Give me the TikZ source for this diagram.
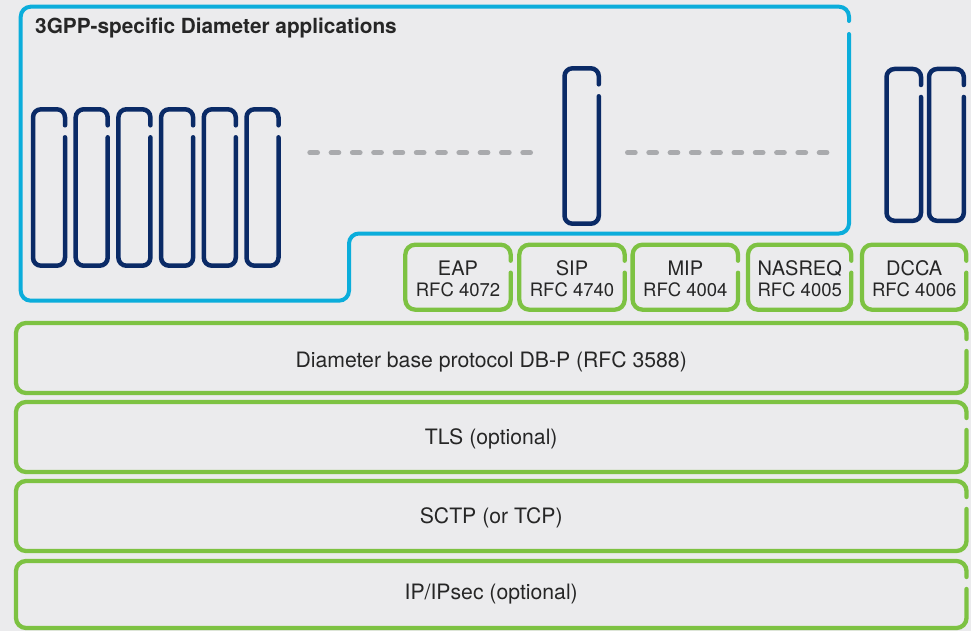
\documentclass[tikz,border=0pt]{standalone}
\usepackage{fontspec}
\setmainfont{TeX Gyre Heros}
\definecolor{bgc}{HTML}{EBEBED}
\definecolor{appblue}{HTML}{0BADDB}
\definecolor{navy}{HTML}{0A2A66}
\definecolor{leaf}{HTML}{7DC242}
\definecolor{dashgray}{HTML}{A9AAAD}
\definecolor{ink}{HTML}{262626}
% rounded frame whose right side is interrupted just below its top-right corner
% #1 style, #2 x-left, #3 y-top, #4 x-right, #5 y-bottom, #6 corner radius
\newcommand\gapframe[6]{%
  \draw[#1, rounded corners=#6] (#4,#3+28) -- (#4,#5) -- (#2,#5) -- (#2,#3) -- (#4,#3) -- (#4,#3+16);}
\tikzset{
  appframe/.style={draw=appblue, line width=4pt, line cap=round},
  pill/.style={draw=navy, line width=4.5pt, line cap=round},
  layer/.style={draw=leaf, line width=4.3pt, line cap=round},
  dotrow/.style={draw=dashgray, line width=5pt, line cap=round, dash pattern=on 7.7pt off 13.6pt},
  lbl/.style={text=ink, inner sep=0pt, anchor=base, font=\fontsize{21.2}{25}\selectfont},
  appname/.style={text=ink, inner sep=0pt, anchor=base, font=\fontsize{20}{24}\selectfont},
  rfc/.style={text=ink, inner sep=0pt, anchor=base, font=\fontsize{18.5}{22}\selectfont},
}
\begin{document}
\begin{tikzpicture}[x=1pt, y=-1pt]
\useasboundingbox (0,0) rectangle (971,631);
\fill[bgc] (0,0) rectangle (971,631);

% 3GPP application area (stepped outline)
\draw[appframe, rounded corners=10] (849,34) -- (849,233.5) -- (349,233.5) -- (349,300.7)
  -- (20.7,300.7) -- (20.7,6.7) -- (849,6.7) -- (849,21);
\node[text=ink, inner sep=0pt, anchor=base west, font=\bfseries\fontsize{20.8}{24}\selectfont]
  (title) at (35,34) {3GPP-specific Diameter applications};

% application slots
\foreach \k in {0,...,5}{
  \pgfmathsetmacro\xa{33+42.7*\k}
  \pgfmathsetmacro\xb{\xa+32}
  \gapframe{pill}{\xa}{109.3}{\xb}{265.7}{8}
}
\gapframe{pill}{564.5}{68.3}{598.8}{223.7}{8}
\gapframe{pill}{886.5}{69}{921}{220.8}{8}
\gapframe{pill}{929}{69}{963.8}{220.8}{8}

% continuation marks
\draw[dotrow] (309.8,152.7) -- (531,152.7);
\draw[dotrow] (627.5,152.7) -- (827.5,152.7);

% standard Diameter applications
\gapframe{layer}{405.3}{244.7}{510.7}{309.7}{10}
\gapframe{layer}{519.3}{244.7}{624.7}{309.7}{10}
\gapframe{layer}{632.6}{244.7}{738}{309.7}{10}
\gapframe{layer}{748}{244.7}{851.3}{309.7}{10}
\gapframe{layer}{862}{244.7}{966.3}{309.7}{10}
\node[appname] (eap)  at (458,275)   {EAP};
\node[rfc]     (eapr) at (458,296)   {RFC 4072};
\node[appname] (sip)  at (572,275)   {SIP};
\node[rfc]     (sipr) at (572,296)   {RFC 4740};
\node[appname] (mip)  at (685.3,275) {MIP};
\node[rfc]     (mipr) at (685.3,296) {RFC 4004};
\node[appname] (nas)  at (799.7,275) {NASREQ};
\node[rfc]     (nasr) at (799.7,296) {RFC 4005};
\node[appname] (dcca) at (914.2,275) {DCCA};
\node[rfc]     (dccr) at (914.2,296) {RFC 4006};

% protocol layers
\gapframe{layer}{16}{323}{966.5}{393}{10}
\gapframe{layer}{16}{402}{966.5}{472}{10}
\gapframe{layer}{16}{481}{966.5}{551}{10}
\gapframe{layer}{16}{561}{966.5}{628}{10}
\node[lbl] (base) at (491.2,367) {Diameter base protocol DB-P (RFC 3588)};
\node[lbl] (tls)  at (491.2,444) {TLS (optional)};
\node[lbl] (sctp) at (491.2,523) {SCTP (or TCP)};
\node[lbl] (ip)   at (491.2,599) {IP/IPsec (optional)};
\end{tikzpicture}
\end{document}
